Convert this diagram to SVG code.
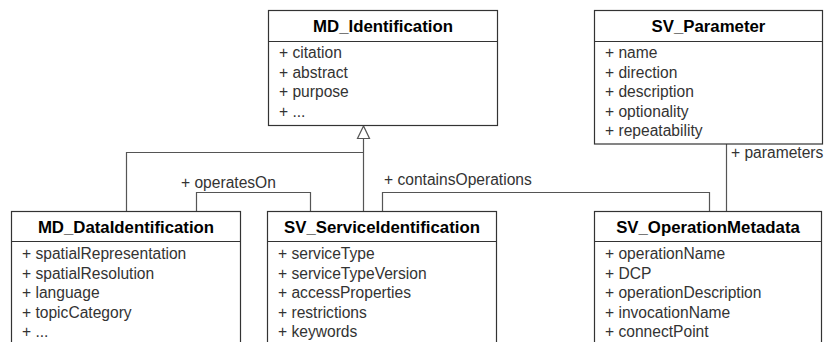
<svg xmlns="http://www.w3.org/2000/svg" width="825" height="342" viewBox="0 0 825 342">
<style>
.box{fill:#fff;stroke:#333;stroke-width:1.2}
.sep{stroke:#333;stroke-width:1.2}
.title{font-family:"Liberation Sans",Arial,sans-serif;font-size:16.8px;font-weight:bold;fill:#000;text-anchor:middle}
.attr{font-family:"Liberation Sans",Arial,sans-serif;font-size:15.6px;fill:#333}
.conn{fill:none;stroke:#555;stroke-width:1.2}
.lbl{font-family:"Liberation Sans",Arial,sans-serif;font-size:15.6px;fill:#333}
</style>
<rect width="825" height="342" fill="#fff"/>
<g id="connectors">
<polyline class="conn" points="126.5,211 126.5,152.5 363.5,152.5"/>
<line class="conn" x1="363.5" y1="211" x2="363.5" y2="138"/>
<polygon points="363.5,126 357.5,138.5 369.5,138.5" fill="#fff" stroke="#555" stroke-width="1.2"/>
<polyline class="conn" points="196.5,211 196.5,192.5 310.5,192.5 310.5,211"/>
<text class="lbl" x="181" y="188">+ operatesOn</text>
<polyline class="conn" points="382.5,211 382.5,192.5 709.5,192.5 709.5,211"/>
<text class="lbl" x="384" y="185">+ containsOperations</text>
<line class="conn" x1="726.5" y1="144" x2="726.5" y2="211"/>
<text class="lbl" x="731" y="158">+ parameters</text>
</g>
<g id="MD_Identification">
<rect class="box" x="268.5" y="10.5" width="229" height="115"/>
<line class="sep" x1="268.5" y1="41.5" x2="497.5" y2="41.5"/>
<text class="title" x="383" y="32">MD_Identification</text>
<text class="attr" x="279" y="58">+ citation</text>
<text class="attr" x="279" y="77.5">+ abstract</text>
<text class="attr" x="279" y="97">+ purpose</text>
<text class="attr" x="279" y="116.5">+ ...</text>
</g>
<g id="SV_Parameter">
<rect class="box" x="594.5" y="10.5" width="228" height="133.5"/>
<line class="sep" x1="594.5" y1="41.5" x2="822.5" y2="41.5"/>
<text class="title" x="708.5" y="32">SV_Parameter</text>
<text class="attr" x="605" y="58">+ name</text>
<text class="attr" x="605" y="77.5">+ direction</text>
<text class="attr" x="605" y="97">+ description</text>
<text class="attr" x="605" y="116.5">+ optionality</text>
<text class="attr" x="605" y="136">+ repeatability</text>
</g>
<g id="MD_DataIdentification">
<rect class="box" x="11.5" y="211.5" width="229" height="140"/>
<line class="sep" x1="11.5" y1="241.5" x2="240.5" y2="241.5"/>
<text class="title" x="126" y="233">MD_DataIdentification</text>
<text class="attr" x="22" y="259">+ spatialRepresentation</text>
<text class="attr" x="22" y="278.5">+ spatialResolution</text>
<text class="attr" x="22" y="298">+ language</text>
<text class="attr" x="22" y="317.5">+ topicCategory</text>
<text class="attr" x="22" y="337">+ ...</text>
</g>
<g id="SV_ServiceIdentification">
<rect class="box" x="267.5" y="211.5" width="229" height="140"/>
<line class="sep" x1="267.5" y1="241.5" x2="496.5" y2="241.5"/>
<text class="title" x="382" y="233">SV_ServiceIdentification</text>
<text class="attr" x="278" y="259">+ serviceType</text>
<text class="attr" x="278" y="278.5">+ serviceTypeVersion</text>
<text class="attr" x="278" y="298">+ accessProperties</text>
<text class="attr" x="278" y="317.5">+ restrictions</text>
<text class="attr" x="278" y="337">+ keywords</text>
</g>
<g id="SV_OperationMetadata">
<rect class="box" x="594.5" y="211.5" width="227" height="140"/>
<line class="sep" x1="594.5" y1="241.5" x2="821.5" y2="241.5"/>
<text class="title" x="708" y="233">SV_OperationMetadata</text>
<text class="attr" x="605" y="259">+ operationName</text>
<text class="attr" x="605" y="278.5">+ DCP</text>
<text class="attr" x="605" y="298">+ operationDescription</text>
<text class="attr" x="605" y="317.5">+ invocationName</text>
<text class="attr" x="605" y="337">+ connectPoint</text>
</g>
</svg>
